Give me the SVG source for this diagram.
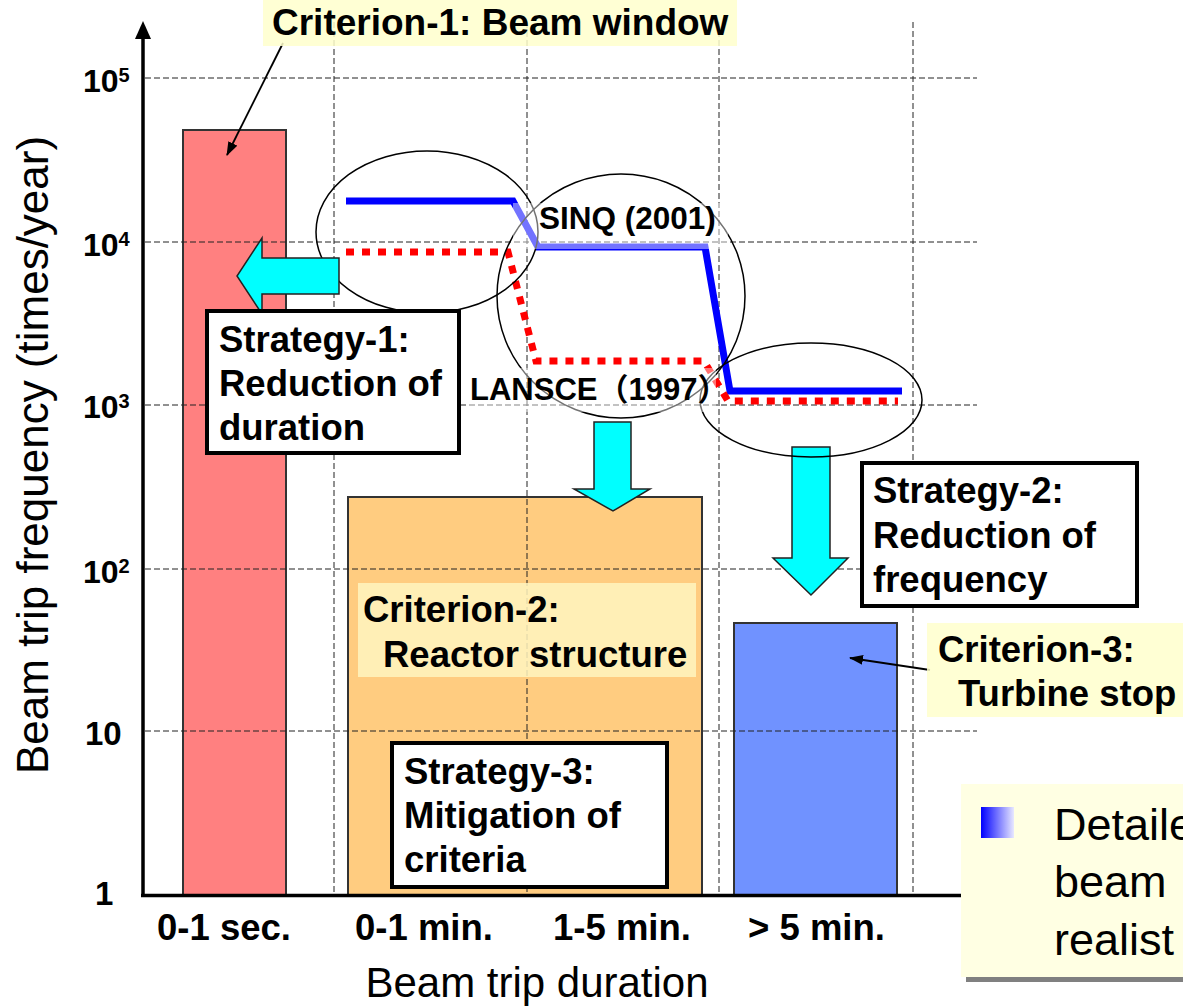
<svg xmlns="http://www.w3.org/2000/svg" width="1183" height="1006" viewBox="0 0 1183 1006">
<defs>
<style>
.b{font-family:"Liberation Sans",Arial,"Noto Sans CJK JP",sans-serif;font-weight:bold;fill:#000}
.r{font-family:"Liberation Sans",Arial,sans-serif;fill:#000}
.grid{stroke:#222;stroke-width:1;stroke-dasharray:6 3;fill:none}
.bar{stroke:#333;stroke-width:2}
.box{fill:#fff;stroke:#000;stroke-width:4}
.cyan{fill:#00FFFF;stroke:#222;stroke-width:1.5}
.ell{fill:none;stroke:#000;stroke-width:1.5}
.lead{stroke:#000;stroke-width:1.8;fill:none}
</style>
<marker id="ah" viewBox="0 0 14 10" refX="13" refY="5" markerWidth="14" markerHeight="10" markerUnits="userSpaceOnUse" orient="auto">
<path d="M0,0 L14,5 L0,10 Z" fill="#000"/>
</marker>
<linearGradient id="bul" x1="0" y1="0" x2="1" y2="0">
<stop offset="0" stop-color="#0000FF"/>
<stop offset="1" stop-color="#E8E8FF"/>
</linearGradient>
</defs>
<rect width="1183" height="1006" fill="#fff"/>

<g id="bars">
<rect class="bar" x="183" y="130" width="103" height="765" fill="#FF8080"/>
<rect class="bar" x="348" y="497" width="354" height="398" fill="#FFCC80"/>
<rect class="bar" x="734" y="623" width="163" height="272" fill="#7092FF"/>
</g>

<g id="grid">
<line class="grid" x1="145" y1="78" x2="977" y2="78"/>
<line class="grid" x1="145" y1="242" x2="977" y2="242"/>
<line class="grid" x1="145" y1="405" x2="977" y2="405"/>
<line class="grid" x1="145" y1="569" x2="977" y2="569"/>
<line class="grid" x1="145" y1="731" x2="977" y2="731"/>
<line class="grid" x1="334" y1="22" x2="334" y2="895"/>
<line class="grid" x1="527" y1="22" x2="527" y2="895"/>
<line class="grid" x1="719" y1="22" x2="719" y2="895"/>
<line class="grid" x1="913" y1="22" x2="913" y2="895"/>
</g>

<g id="axes">
<line x1="143" y1="897" x2="143" y2="36" stroke="#000" stroke-width="3.5"/>
<path d="M143,21 L151,39 L135,39 Z" fill="#000"/>
<line x1="141" y1="895.5" x2="962" y2="895.5" stroke="#000" stroke-width="3.5"/>
</g>

<g id="ticks">
<text class="b" x="83" y="92" font-size="32">10<tspan font-size="20" dy="-10">5</tspan></text>
<text class="b" x="83" y="256" font-size="32">10<tspan font-size="20" dy="-10">4</tspan></text>
<text class="b" x="83" y="418" font-size="32">10<tspan font-size="20" dy="-10">3</tspan></text>
<text class="b" x="83" y="583" font-size="32">10<tspan font-size="20" dy="-10">2</tspan></text>
<text class="b" x="85" y="745" font-size="33">10</text>
<text class="b" x="95" y="905" font-size="33">1</text>
<text class="b" x="157" y="940" font-size="36.5">0-1 sec.</text>
<text class="b" x="355" y="940" font-size="36.5">0-1 min.</text>
<text class="b" x="553" y="940" font-size="36.5">1-5 min.</text>
<text class="b" x="748" y="940" font-size="36.5">&gt; 5 min.</text>
<text class="r" x="537" y="997" font-size="42" text-anchor="middle">Beam trip duration</text>
<text class="r" transform="translate(48,455) rotate(-90)" font-size="44" text-anchor="middle">Beam trip frequency (times/year)</text>
</g>

<g id="down-arrows">
<path class="cyan" d="M594,422 H631 V489 H650 L613,511 L574,489 H594 Z"/>
<path class="cyan" d="M792,447 H830 V558 H848 L811,595 L773,558 H792 Z"/>
</g>

<g id="connectors">
<path d="M346,201 H513 L538,247 H705 L730,391 H902" fill="none" stroke="#0000FF" stroke-width="7"/>
<path d="M346,252 H508 L536,361 H704 L728,401 H898" fill="none" stroke="#FF0000" stroke-width="7" stroke-dasharray="8 8"/>
<line class="lead" x1="283" y1="43" x2="227" y2="155" marker-end="url(#ah)"/>
<line class="lead" x1="930" y1="670" x2="850" y2="658" marker-end="url(#ah)"/>
</g>

<g id="ellipses">
<ellipse class="ell" cx="427" cy="232" rx="111" ry="81"/>
<ellipse class="ell" cx="621" cy="296" rx="124" ry="122"/>
<ellipse class="ell" cx="811" cy="400" rx="111" ry="57"/>
</g>

<g id="sinq">
<rect x="513" y="203" width="215" height="46" fill="#fff" fill-opacity="0.45"/>
<text class="b" x="539" y="229" font-size="31.5">SINQ (2001)</text>
</g>
<g id="lansce">
<rect x="466" y="368" width="250" height="44" fill="#fff" fill-opacity="0.45"/>
<text class="b" x="470" y="400" font-size="31">LANSCE（1997）</text>
</g>

<g id="strategy-1-arrow">
<path class="cyan" d="M339,258 V294 H262 V314 L237,276 L262,238 V258 Z"/>
</g>

<g id="criterion-1">
<rect x="263" y="0" width="474" height="46" fill="#FFFFCC" fill-opacity="0.85"/>
<text class="b" x="272" y="35" font-size="37">Criterion-1: Beam window</text>
</g>

<g id="strategy-1">
<rect class="box" x="207" y="311" width="252" height="142"/>
<text class="b" x="219" y="352" font-size="36.5">Strategy-1:</text>
<text class="b" x="219" y="396" font-size="36.5">Reduction of</text>
<text class="b" x="219" y="440" font-size="36.5">duration</text>
</g>

<g id="strategy-2">
<rect class="box" x="862" y="463" width="275" height="143"/>
<text class="b" x="873" y="503" font-size="36.5">Strategy-2:</text>
<text class="b" x="873" y="548" font-size="36.5">Reduction of</text>
<text class="b" x="873" y="592" font-size="36.5">frequency</text>
</g>

<g id="criterion-2">
<rect x="358" y="583" width="338" height="94" fill="#FFF5C0" fill-opacity="0.85"/>
<text class="b" x="363" y="622" font-size="36.5">Criterion-2:</text>
<text class="b" x="383" y="667" font-size="36.5">Reactor structure</text>
</g>

<g id="criterion-3">
<rect x="927" y="623" width="256" height="94" fill="#FFFFCC" fill-opacity="0.85"/>
<text class="b" x="938" y="662" font-size="36.5">Criterion-3:</text>
<text class="b" x="958" y="706" font-size="36.5">Turbine stop</text>
</g>

<g id="strategy-3">
<rect class="box" x="392" y="743" width="275" height="144"/>
<text class="b" x="404" y="784" font-size="36.5">Strategy-3:</text>
<text class="b" x="404" y="828" font-size="36.5">Mitigation of</text>
<text class="b" x="404" y="872" font-size="36.5">criteria</text>
</g>

<g id="legend">
<rect x="966" y="789" width="230" height="193" fill="#808080"/>
<rect x="961" y="784" width="230" height="193" fill="#FFFFE3"/>
<rect x="981" y="807" width="33" height="31" fill="url(#bul)"/>
<text class="r" x="1054" y="840" font-size="45">Detaile</text>
<text class="r" x="1054" y="897" font-size="45">beam</text>
<text class="r" x="1054" y="955" font-size="45">realist</text>
</g>
</svg>
